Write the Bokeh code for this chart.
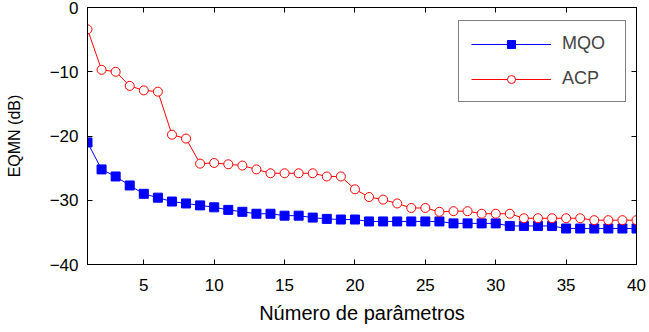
from bokeh.plotting import figure
from bokeh.models import LinearAxis, FixedTicker, Range1d, Legend, LegendItem
from bokeh.embed import file_html
from bokeh.resources import INLINE

n_params = list(range(1, 41))
mqo_db = [-21.0, -25.2, -26.3, -27.7, -29.0, -29.6, -30.2, -30.5, -30.8, -31.1,
          -31.5, -31.8, -32.1, -32.1, -32.4, -32.4, -32.7, -32.9, -33.0, -33.0,
          -33.3, -33.3, -33.3, -33.3, -33.3, -33.3, -33.6, -33.6, -33.6, -33.6,
          -34.0, -34.0, -34.0, -34.0, -34.4, -34.4, -34.4, -34.4, -34.4, -34.4]
acp_db = [-3.4, -9.7, -10.0, -12.2, -12.9, -13.1, -19.8, -20.4, -24.3, -24.2,
          -24.4, -24.6, -25.2, -25.8, -25.8, -25.8, -25.8, -26.3, -26.3, -28.3,
          -29.5, -29.9, -30.5, -31.2, -31.2, -31.8, -31.7, -31.7, -32.1, -32.1,
          -32.1, -32.8, -32.8, -32.8, -32.8, -32.8, -33.1, -33.1, -33.1, -33.1]
x_ticks = [5, 10, 15, 20, 25, 30, 35, 40]
y_ticks = [-40, -30, -20, -10, 0]
x_label = "Número de parâmetros"
y_label = "EQMN (dB)"
series_names = ["MQO", "ACP"]

FONT = "Liberation Sans"

p = figure(width=649, height=332,
           min_border_left=87, min_border_right=13, min_border_top=7, min_border_bottom=68,
           x_range=Range1d(1, 40), y_range=Range1d(-40, 0),
           output_backend="svg", toolbar_location=None)

p.xgrid.visible = False
p.ygrid.visible = False
p.outline_line_color = "black"
p.outline_line_width = 1
p.background_fill_color = "white"
p.border_fill_color = "white"

def style_axis(ax, labels=True):
    ax.axis_line_color = "black"
    ax.major_tick_line_color = "black"
    ax.major_tick_in = 5
    ax.major_tick_out = 0
    ax.minor_tick_line_color = None
    ax.major_label_text_font = FONT
    ax.major_label_text_font_size = "17px"
    ax.major_label_text_color = "black"
    ax.axis_label_text_font = FONT
    ax.axis_label_text_font_style = "normal"
    ax.axis_label_text_color = "black"
    if not labels:
        ax.major_label_text_font_size = "0px"
        ax.major_label_text_alpha = 0

p.xaxis.ticker = FixedTicker(ticks=x_ticks)
p.yaxis.ticker = FixedTicker(ticks=y_ticks)
style_axis(p.xaxis[0])
style_axis(p.yaxis[0])
p.xaxis.axis_label = x_label
p.yaxis.axis_label = y_label
p.xaxis.axis_label_text_font_size = "20px"
p.yaxis.axis_label_text_font_size = "16px"
p.xaxis.major_label_standoff = 14
p.yaxis.major_label_standoff = 9
p.xaxis.axis_label_standoff = 8
p.yaxis.axis_label_standoff = 24

top = LinearAxis(ticker=FixedTicker(ticks=x_ticks))
right = LinearAxis(ticker=FixedTicker(ticks=y_ticks))
style_axis(top, labels=False)
style_axis(right, labels=False)
top.major_label_standoff = 0
right.major_label_standoff = 0
p.add_layout(top, "above")
p.add_layout(right, "right")

l1 = p.line(n_params, mqo_db, line_color="#0000FF", line_width=1)
s1 = p.scatter(n_params, mqo_db, marker="square", size=9, fill_color="#0000FF",
               line_color="#0000FF")
l2 = p.line(n_params, acp_db, line_color="#FF0000", line_width=1)
s2 = p.scatter(n_params, acp_db, marker="circle", size=9, fill_color="white",
               line_color="#FF0000", line_width=1)

legend = Legend(items=[LegendItem(label=series_names[0], renderers=[l1, s1]),
                       LegendItem(label=series_names[1], renderers=[l2, s2])],
                location=(371, 162))
legend.glyph_width = 80
legend.glyph_height = 20
legend.spacing = 14
legend.padding = 12
legend.label_standoff = 11
legend.label_width = 51
legend.label_text_font = FONT
legend.label_text_font_size = "18px"
legend.border_line_color = "black"
legend.border_line_width = 1
legend.background_fill_color = "white"
legend.background_fill_alpha = 1
legend.margin = 0
p.add_layout(legend, "center")

open("out.html", "w").write(file_html(p, INLINE))
